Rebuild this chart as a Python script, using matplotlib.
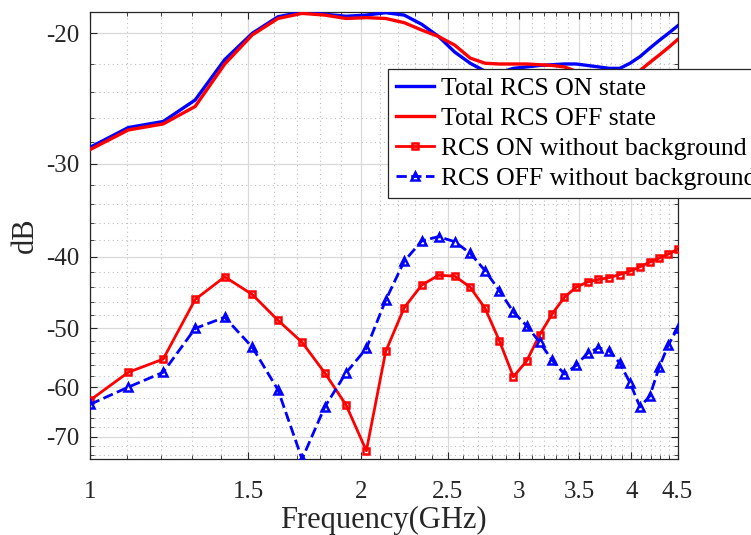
import numpy as np
import matplotlib
matplotlib.use("Agg")
import matplotlib.pyplot as plt
from matplotlib.ticker import FixedLocator, FixedFormatter, NullFormatter

plt.rcParams['font.family'] = ['Liberation Serif', 'DejaVu Serif']
plt.rcParams['axes.unicode_minus'] = False

# ---------------- data ----------------
freq = [1.000, 1.103, 1.206, 1.309, 1.412, 1.515, 1.618, 1.721, 1.824, 1.926,
        2.029, 2.132, 2.235, 2.338, 2.441, 2.544, 2.647, 2.750, 2.853, 2.956,
        3.059, 3.162, 3.265, 3.368, 3.471, 3.574, 3.676, 3.779, 3.882, 3.985,
        4.088, 4.191, 4.294, 4.397, 4.500]

total_on = [-28.5, -26.8, -26.3, -24.6, -21.7, -20.0, -19.0, -18.72, -18.85, -18.97,
            -18.9, -18.76, -18.9, -19.45, -20.2, -21.2, -21.95, -22.5, -22.6, -22.3,
            -22.2, -22.1, -22.05, -22.0, -22.0, -22.1, -22.2, -22.3, -22.3, -21.95,
            -21.5, -20.95, -20.45, -20.0, -19.55]

total_off = [-28.7, -27.0, -26.5, -25.1, -22.0, -20.1, -19.1, -18.8, -18.9, -19.1,
             -19.05, -19.1, -19.35, -19.8, -20.2, -20.75, -21.6, -21.95, -22.0, -22.0,
             -22.0, -22.05, -22.1, -22.2, -22.5, -22.8, -23.0, -23.1, -23.1, -22.9,
             -22.45, -21.9, -21.4, -20.9, -20.4]

on_nobg = [-62.5, -57.3, -55.0, -45.7, -42.6, -45.0, -48.75, -52.2, -57.4, -63.4,
           -73.1, -53.7, -46.9, -43.7, -42.4, -42.5, -44.0, -47.0, -52.0, -58.1,
           -55.3, -51.0, -47.8, -45.4, -44.0, -43.3, -42.95, -42.7, -42.3, -41.85,
           -41.3, -40.7, -40.2, -39.7, -39.1]

off_nobg = [-63.3, -60.0, -57.3, -50.0, -48.3, -53.0, -60.5, -75.0, -63.8, -57.4,
            -53.2, -45.8, -40.6, -38.1, -37.6, -38.2, -39.6, -41.8, -44.5, -47.5,
            -49.6, -52.2, -55.2, -57.6, -56.1, -54.0, -53.1, -53.6, -55.7, -59.2,
            -63.8, -61.7, -56.4, -52.6, -50.0]

xticks = [1, 1.5, 2, 2.5, 3, 3.5, 4, 4.5]
xticklabels = ['1', '1.5', '2', '2.5', '3', '3.5', '4', '4.5']
yticks = [-70, -60, -50, -40, -30, -20]
yticklabels = ['-70', '-60', '-50', '-40', '-30', '-20']
labels = ['Total RCS ON state', 'Total RCS OFF state',
          'RCS ON without background', 'RCS OFF without background']

# ---------------- figure ----------------
fig = plt.figure(figsize=(7.51, 5.35), dpi=100)
ax = fig.add_axes([90/751, 1-459/535, 587.5/751, 447/535])

ax.plot(freq, total_on, color='#0000ff', lw=2.4, label=labels[0], zorder=4)
ax.plot(freq, total_off, color='#ff0000', lw=2.4, label=labels[1], zorder=4)
ax.plot(freq, on_nobg, color='#ff0000', lw=2.0, marker='s', ms=5,
        mfc='none', mew=1.8, label=labels[2], zorder=4)
ax.plot(freq, off_nobg, color='#0000ff', lw=2.0, ls='--', marker='^', ms=6,
        mfc='none', mew=1.8, label=labels[3], zorder=4)

ax.set_xscale('log')
fwd = lambda y: -np.log(np.clip(-np.asarray(y, dtype=float), 1e-9, None))
inv = lambda u: -np.exp(-np.asarray(u, dtype=float))
ax.set_yscale('function', functions=(fwd, inv))

ax.set_xlim(min(freq), max(freq))
allv = total_on + total_off + on_nobg + off_nobg
ax.set_ylim(min(allv), max(allv))

ax.xaxis.set_major_locator(FixedLocator(xticks))
ax.xaxis.set_major_formatter(FixedFormatter(xticklabels))
ax.xaxis.set_minor_locator(FixedLocator([1 + 0.1*i for i in range(36)]))
ax.xaxis.set_minor_formatter(NullFormatter())
ax.yaxis.set_major_locator(FixedLocator(yticks))
ax.yaxis.set_major_formatter(FixedFormatter(yticklabels))
ax.yaxis.set_minor_locator(FixedLocator([-74 + 2*i for i in range(28)]))
ax.yaxis.set_minor_formatter(NullFormatter())

ax.tick_params(which='both', direction='in', top=True, right=True,
               color='#262626', labelcolor='#262626')
ax.tick_params(which='major', length=5, width=0.8, labelsize=18)
ax.tick_params(which='minor', length=3, width=0.6)
ax.tick_params(axis='x', which='major', pad=16)
ax.tick_params(axis='y', which='major', pad=8)

ax.grid(True, which='major', color='#d9d9d9', lw=0.9, ls='-', zorder=0)
ax.grid(True, which='minor', color='#bfbfbf', lw=0.8, ls=(0, (1, 3)), zorder=0)
ax.set_axisbelow(True)
for s in ax.spines.values():
    s.set_color('#262626')
    s.set_linewidth(0.9)

ax.set_xlabel('Frequency(GHz)', fontsize=22, color='#262626', labelpad=2)
ax.set_ylabel('dB', fontsize=22, color='#262626', labelpad=4)

leg = ax.legend(loc='upper left', bbox_to_anchor=(388/751, 1-69/535),
                bbox_transform=fig.transFigure, fontsize=18.5, frameon=True,
                fancybox=False, framealpha=1, edgecolor='#262626',
                handlelength=1.5, handletextpad=0.25, borderpad=0.3,
                labelspacing=0.28, borderaxespad=0)
leg.get_frame().set_linewidth(0.9)
leg.set_zorder(10)

fig.savefig('out.png', dpi=100)
